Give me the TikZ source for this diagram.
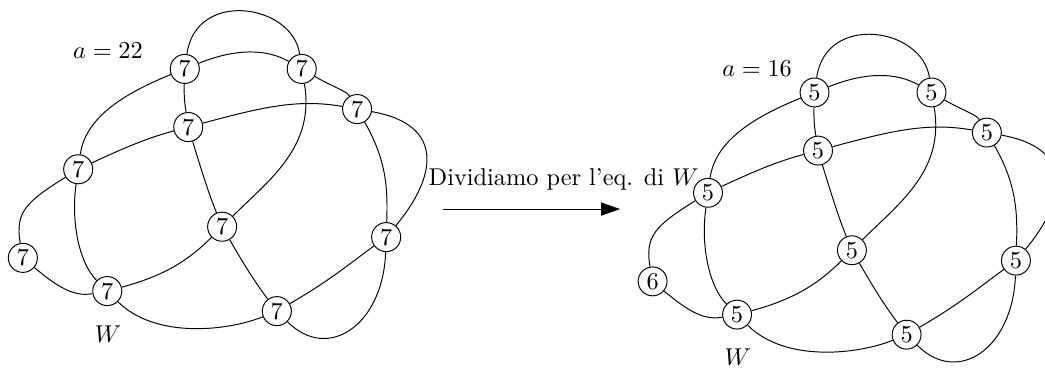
\documentclass[tikz,border=0pt]{standalone}
\usetikzlibrary{arrows.meta}
\begin{document}
\begin{tikzpicture}[vtx/.style={draw,circle,inner sep=1.2pt}]
\useasboundingbox (0,0) rectangle (15.10,5.376);
\foreach \s/\dx/\dy/\lab/\hlab/\val/\ax/\ay in {L/0/0/7/7/22/1.56/4.64,R/9.10/-0.34/5/6/16/1.84/4.72}{
\begin{scope}[shift={(\dx,\dy)},name prefix=\s-]
\node[vtx] (A) at (2.67,4.38) {\lab};
\node[vtx] (B) at (4.36,4.38) {\lab};
\node[vtx] (C) at (5.16,3.80) {\lab};
\node[vtx] (D) at (2.72,3.54) {\lab};
\node[vtx] (E) at (1.13,2.93) {\lab};
\node[vtx] (F) at (3.21,2.10) {\lab};
\node[vtx] (G) at (5.58,1.95) {\lab};
\node[vtx] (H) at (0.33,1.65) {\hlab};
\node[vtx] (I) at (1.55,1.17) {\lab};
\node[vtx] (J) at (4.00,0.88) {\lab};
\node (val) at (\ax,\ay) {$a=\val$};
\node (W) at (1.56,0.55) {$W$};
\draw (A) to[out=22,in=150] (B);
\draw (A) to[out=82,in=98,looseness=1.45] (B);
\draw (A) to[out=268,in=98] (D);
\draw (A) to[out=202,in=82] (E);
\draw (B) to[out=330,in=120] (C);
\draw (B) to[out=280,in=45] (F);
\draw (D) to[out=15,in=170] (C);
\draw (C) to[out=300,in=88] (G);
\draw (C) to[out=350,in=50,looseness=1.55] (G);
\draw (E) to[out=25,in=195] (D);
\draw (D) to[out=287,in=112] (F);
\draw (E) to[out=212,in=100,looseness=1.3] (H);
\draw (E) to[out=262,in=135,looseness=0.9] (I);
\draw (I) to[out=15,in=225] (F);
\draw (F) to[out=300,in=127] (J);
\draw (J) to[out=30,in=216] (G);
\draw (G) to[out=268,in=315,looseness=1.5] (J);
\draw (H) to[out=320,in=190,looseness=1.1] (I);
\draw (I) to[out=315,in=202,looseness=0.85] (J);
\end{scope}}
\node[anchor=base west] (txt) at (6.07,2.69) {Dividiamo per l'eq. di $W$};
\coordinate (p) at (6.40,2.355);
\coordinate (q) at (8.96,2.355);
\draw[-{Triangle[length=7.8pt,width=5.4pt]}] (p) -- (q);
\end{tikzpicture}
\end{document}
